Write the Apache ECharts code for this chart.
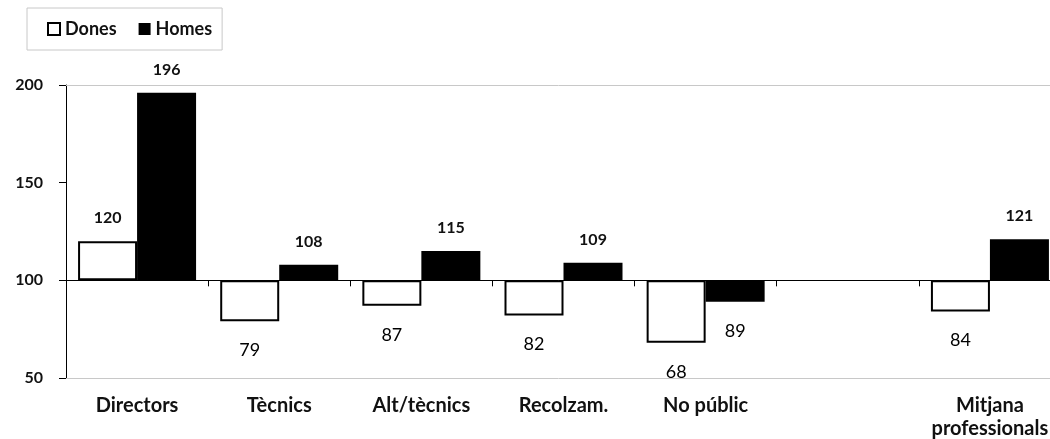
<!DOCTYPE html>
<html>
<head>
<meta charset="utf-8">
<script src="https://cdn.jsdelivr.net/npm/echarts@6/dist/echarts.min.js"></script>
<style>
html,body{margin:0;padding:0;background:#fff;}
#chart{width:1050px;height:439px;}
</style>
</head>
<body>
<div id="chart"></div>
<script>
const categories = ['Directors', 'Tècnics', 'Alt/tècnics', 'Recolzam.', 'No públic', '', 'Mitjana\nprofessionals'];
const dones = [120, 79, 87, 82, 68, null, 84];
const homes = [196, 108, 115, 109, 89, null, 121];
const baseline = 100;
const yMin = 50, yMax = 200, yInterval = 50;

const FONT = 'Lato';

function baseData(arr) {
  return arr.map(v => v == null ? null : Math.min(v, baseline));
}
function deltaData(arr) {
  return arr.map(v => {
    if (v == null) return null;
    const up = v >= baseline;
    return {
      value: Math.abs(v - baseline),
      label: up
        ? { position: 'top', distance: 15, fontSize: 16, fontWeight: 'bold' }
        : { position: 'bottom', distance: 20, fontSize: 18, fontWeight: 'normal', color: '#000' }
    };
  });
}

const chart = echarts.init(document.getElementById('chart'), null, { renderer: 'canvas' });

const gridTop = 85, gridBottom = 61, chartH = 439;
const plotH = chartH - gridTop - gridBottom;
const axisOffset = -plotH * (baseline - yMin) / (yMax - yMin);

const labelCommon = {
  show: true,
  color: '#111',
  fontFamily: FONT
};

chart.setOption({
  animation: false,
  backgroundColor: '#fff',
  legend: {
    data: ['Dones', 'Homes'],
    left: 27,
    top: 8,
    padding: [12, 10, 12, 20],
    itemGap: 22,
    itemWidth: 12,
    itemHeight: 12,
    borderColor: '#c8c8c8',
    borderWidth: 1,
    icon: 'rect',
    textStyle: { fontFamily: FONT, fontWeight: 'bold', fontSize: 18, color: '#111' }
  },
  grid: {
    left: 66, right: -11, top: gridTop, bottom: gridBottom,
    containLabel: false, outerBoundsMode: 'none'
  },
  xAxis: [
    {
      type: 'category',
      data: categories,
      position: 'bottom',
      axisLine: { show: false },
      axisTick: { show: false },
      axisLabel: {
        interval: 0,
        margin: 16,
        fontFamily: FONT,
        fontWeight: 'bold',
        fontSize: 20,
        color: '#111',
        lineHeight: 23
      }
    },
    {
      type: 'category',
      data: categories,
      position: 'bottom',
      offset: axisOffset,
      axisLine: { show: true, lineStyle: { color: '#000', width: 1 } },
      axisTick: { show: true, length: 6, lineStyle: { color: '#000' } },
      axisLabel: { show: false }
    }
  ],
  yAxis: {
    type: 'value',
    min: yMin,
    max: yMax,
    interval: yInterval,
    axisLine: { show: true, lineStyle: { color: '#000', width: 1 } },
    axisTick: { show: true, length: 7, lineStyle: { color: '#000' } },
    splitLine: { show: false },
    axisLabel: {
      margin: 23,
      fontFamily: FONT,
      fontWeight: 'bold',
      fontSize: 16,
      color: '#111'
    }
  },
  series: [
    {
      name: 'donesBase',
      type: 'bar',
      stack: 'd',
      data: baseData(dones),
      barWidth: 59,
      barGap: '0%',
      silent: true,
      itemStyle: { color: 'rgba(0,0,0,0)' },
      markLine: {
        silent: true,
        symbol: 'none',
        label: { show: false },
        lineStyle: { color: '#c8c8c8', width: 1, type: 'solid' },
        data: [{ yAxis: yMax }, { yAxis: yMin }]
      }
    },
    {
      name: 'Dones',
      type: 'bar',
      stack: 'd',
      data: deltaData(dones),
      barWidth: 59,
      barGap: '0%',
      itemStyle: { color: '#fff', borderColor: '#000', borderWidth: 2 },
      label: Object.assign({}, labelCommon, {
        formatter: p => String(dones[p.dataIndex])
      })
    },
    {
      name: 'homesBase',
      type: 'bar',
      stack: 'h',
      data: baseData(homes),
      barWidth: 59,
      barGap: '0%',
      silent: true,
      itemStyle: { color: 'rgba(0,0,0,0)' }
    },
    {
      name: 'Homes',
      type: 'bar',
      stack: 'h',
      data: deltaData(homes),
      barWidth: 59,
      barGap: '0%',
      itemStyle: { color: '#000' },
      label: Object.assign({}, labelCommon, {
        formatter: p => String(homes[p.dataIndex])
      })
    }
  ]
});
</script>
</body>
</html>
